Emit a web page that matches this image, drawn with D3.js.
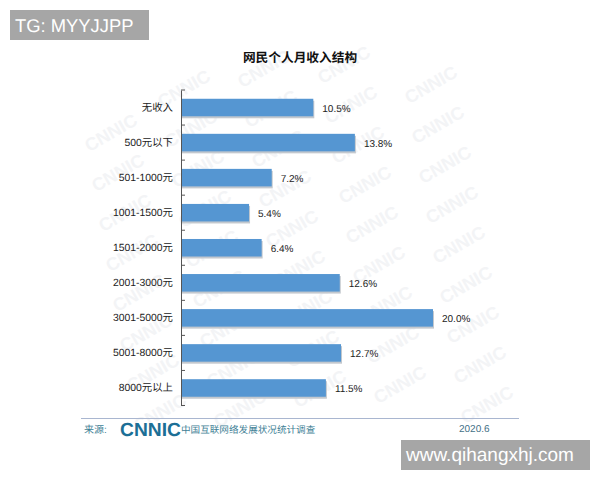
<!DOCTYPE html>
<html>
<head>
<meta charset="utf-8">
<script src="https://d3js.org/d3.v7.min.js"></script>
<style>
  html, body { margin: 0; padding: 0; background: #fff; }
  text { font-family: "Liberation Sans", "Noto Sans CJK SC", sans-serif; text-rendering: geometricPrecision; }
</style>
</head>
<body>
<svg id="chart" width="600" height="480" style="display:block"></svg>
<script>
var categories = ["无收入", "500元以下", "501-1000元", "1001-1500元", "1501-2000元", "2001-3000元", "3001-5000元", "5001-8000元", "8000元以上"];
var values = [10.5, 13.8, 7.2, 5.4, 6.4, 12.6, 20.0, 12.7, 11.5];
var title = "网民个人月收入结构";
var sourceLabel = "来源:";
var sourceOrg = "中国互联网络发展状况统计调查";
var dateLabel = "2020.6";
var tagTop = "TG: MYYJJPP";
var tagBottom = "www.qihangxhj.com";

var svg = d3.select("#chart");

// faint background watermark, only where it fits inside the picture area
var mark = svg.append("g")
  .attr("fill", "#f3f4f6")
  .style("font-size", "18px")
  .style("font-weight", "bold");
for (var r = 0; r < 11; r++) {
  for (var c = 0; c < 6; c++) {
    var wx = 100 + c * 80 + r * 7;
    var wy = 58 + r * 40 - c * 12 + (c % 2) * 8;
    if (wx < 112 || wx > 490 || wy < 62 || wy > 425) continue;
    mark.append("text")
      .attr("transform", "translate(" + wx + "," + wy + ") rotate(-30)")
      .attr("text-anchor", "middle")
      .text("CNNIC");
  }
}

var x = d3.scaleLinear().domain([0, 20]).range([181, 433]);
var y = d3.scaleBand().domain(categories).range([90, 405.5]).paddingInner(0.5).paddingOuter(0.25);

svg.append("text")
  .attr("x", 300).attr("y", 62)
  .attr("text-anchor", "middle")
  .attr("fill", "#111")
  .style("font-size", "12.7px")
  .style("font-weight", "bold")
  .text(title);

// bar shadow first, then the bar
svg.selectAll(".barShadow")
  .data(values)
  .enter()
  .append("rect")
  .attr("class", "barShadow")
  .attr("x", x(0) + 1)
  .attr("y", function(d, i){ return y(categories[i]) + 2 })
  .attr("width", function(d){ return x(d) - x(0) })
  .attr("height", y.bandwidth())
  .attr("fill", "#c3c8ce");

svg.selectAll(".bar")
  .data(values)
  .enter()
  .append("rect")
  .attr("class", "bar")
  .attr("x", x(0))
  .attr("y", function(d, i){ return y(categories[i]) })
  .attr("width", function(d){ return x(d) - x(0) })
  .attr("height", y.bandwidth())
  .attr("fill", "#5596d2");

svg.selectAll(".valueLabel")
  .data(values)
  .enter()
  .append("text")
  .attr("class", "valueLabel")
  .attr("x", function(d){ return x(d) + 9 })
  .attr("y", function(d, i){ return y(categories[i]) + y.bandwidth() / 2 + 4 })
  .attr("fill", "#222")
  .style("font-size", "10px")
  .text(function(d){ return d.toFixed(1) + "%" });

var axis = svg.append("g")
  .attr("transform", "translate(" + x(0) + ",0)")
  .call(d3.axisLeft(y).tickSize(0).tickPadding(8));
axis.select(".domain").attr("stroke", "#555");
axis.selectAll("text")
  .attr("fill", "#222")
  .style("font-family", "'Liberation Sans', 'Noto Sans CJK SC', sans-serif")
  .style("font-size", "10.4px");

// small tick marks between the bars
var step = y.step();
svg.append("g").selectAll("line")
  .data(d3.range(categories.length + 1))
  .enter()
  .append("line")
  .attr("x1", x(0))
  .attr("x2", x(0) + 4)
  .attr("y1", function(d){ return 90 + d * step })
  .attr("y2", function(d){ return 90 + d * step })
  .attr("stroke", "#555");

// footer
svg.append("line")
  .attr("x1", 81).attr("x2", 519)
  .attr("y1", 418.5).attr("y2", 418.5)
  .attr("stroke", "#a9b6d0")
  .attr("stroke-width", 1.2);

svg.append("text")
  .attr("x", 84).attr("y", 433)
  .attr("fill", "#3f7f96")
  .style("font-size", "10px")
  .text(sourceLabel);

svg.append("text")
  .attr("x", 120).attr("y", 436)
  .attr("fill", "#1c6f96")
  .style("font-size", "19px")
  .style("font-weight", "bold")
  .attr("textLength", 61)
  .attr("lengthAdjust", "spacingAndGlyphs")
  .text("CNNIC");

svg.append("text")
  .attr("x", 181).attr("y", 433)
  .attr("fill", "#3f7f96")
  .style("font-size", "9.6px")
  .text(sourceOrg);

svg.append("text")
  .attr("x", 459).attr("y", 432)
  .attr("fill", "#3f6f86")
  .style("font-size", "10px")
  .text(dateLabel);

// overlay tags
svg.append("rect").attr("x", 10).attr("y", 10).attr("width", 139).attr("height", 30).attr("fill", "#a6a6a6");
svg.append("text")
  .attr("x", 15).attr("y", 31.5)
  .attr("fill", "#fff")
  .style("font-size", "18.4px")
  .text(tagTop);

svg.append("rect").attr("x", 401).attr("y", 440).attr("width", 189).attr("height", 30).attr("fill", "#a6a6a6");
svg.append("text")
  .attr("x", 406).attr("y", 461)
  .attr("fill", "#fff")
  .style("font-size", "19px")
  .text(tagBottom);
</script>
</body>
</html>
